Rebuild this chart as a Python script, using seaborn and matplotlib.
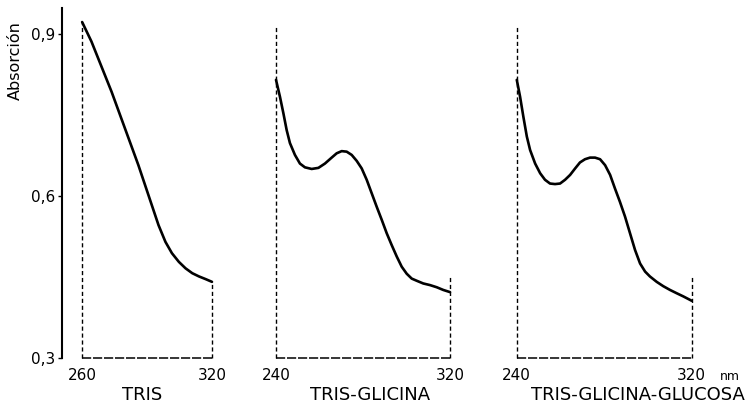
import numpy as np
import pandas as pd
import seaborn as sns
from matplotlib import pyplot as plt

# absorption spectra (nm, absorbance)
tris_nm = [260.0, 264.3, 267.4, 270.5, 273.6, 276.7, 279.8, 282.9, 286.0, 289.1, 292.2,
           295.3, 298.5, 301.5, 304.7, 307.8, 310.9, 314.0, 317.1, 320.0]
tris_abs = [0.922, 0.886, 0.855, 0.824, 0.793, 0.759, 0.725, 0.691, 0.657, 0.620, 0.583,
            0.546, 0.515, 0.494, 0.478, 0.466, 0.457, 0.451, 0.446, 0.441]

glicina_nm = [240.0, 241.8, 243.4, 244.9, 246.4, 248.7, 251.0, 253.3, 256.4, 259.5, 262.5,
              265.6, 267.9, 270.2, 272.5, 274.8, 277.1, 279.4, 281.7, 284.0, 286.3, 288.6,
              290.9, 293.2, 295.5, 297.8, 300.1, 302.4, 304.7, 307.7, 310.8, 313.9, 316.9, 320.0]
glicina_abs = [0.815, 0.784, 0.753, 0.722, 0.698, 0.676, 0.660, 0.653, 0.650, 0.652, 0.660,
               0.671, 0.679, 0.683, 0.682, 0.676, 0.665, 0.651, 0.630, 0.605, 0.580, 0.556,
               0.531, 0.509, 0.488, 0.469, 0.456, 0.447, 0.443, 0.438, 0.435, 0.431, 0.426, 0.422]

glucosa_nm = [240.0, 241.5, 243.0, 244.6, 246.1, 248.4, 250.7, 252.9, 255.2, 257.5, 259.8,
              262.1, 264.4, 266.7, 268.9, 271.2, 273.5, 275.8, 278.1, 280.4, 282.7, 284.9,
              287.2, 289.5, 291.8, 294.1, 296.4, 298.7, 300.9, 304.0, 307.0, 310.1, 313.1,
              316.2, 320.0]
glucosa_abs = [0.815, 0.784, 0.747, 0.710, 0.685, 0.660, 0.642, 0.630, 0.623, 0.622, 0.623,
               0.630, 0.639, 0.651, 0.662, 0.668, 0.671, 0.671, 0.668, 0.657, 0.639, 0.614,
               0.589, 0.562, 0.531, 0.500, 0.475, 0.460, 0.451, 0.441, 0.433, 0.426, 0.420,
               0.414, 0.406]

panel_names = ["TRIS", "TRIS-GLICINA", "TRIS-GLICINA-GLUCOSA"]
panel_ticks = [(260, 320), (240, 320), (240, 320)]
y_ticks = [0.3, 0.6, 0.9]
y_labels = ["0,3", "0,6", "0,9"]

sns.set_style("white")
plt.rcParams['font.family'] = ['DejaVu Sans']
plt.rcParams['text.color'] = 'black'
plt.rcParams['xtick.color'] = 'black'
plt.rcParams['ytick.color'] = 'black'

W, H = 754, 408
fig = plt.figure(figsize=(W / 100, H / 100), dpi=100)

ylim = (0.3, 0.948)
bottom = (H - 358) / H
height = (358 - 8) / H

# axes in pixel terms: (left px, right px, xlim)
layout = [
    (62, 215, (250.7, 321.4)),
    (270, 456, (237.24, 322.76)),
    (510, 698, (236.9, 322.9)),
]
# where the dashed verticals stop (left top, right top)
dash_tops = [(0.922, 0.441), (0.913, 0.45), (0.913, 0.45)]
label_x = [142, 370, 638]

data = [(tris_nm, tris_abs), (glicina_nm, glicina_abs), (glucosa_nm, glucosa_abs)]

for i, ((lpx, rpx, xl), (xs, ys)) in enumerate(zip(layout, data)):
    ax = fig.add_axes([lpx / W, bottom, (rpx - lpx) / W, height])
    df = pd.DataFrame({"nm": xs, "abs": ys})
    sns.lineplot(data=df, x="nm", y="abs", ax=ax, color="black", lw=1.9,
                 sort=True, clip_on=False)
    ax.set_xlim(xl)
    ax.set_ylim(ylim)
    x0, x1 = panel_ticks[i]
    lt, rt = dash_tops[i]
    ax.plot([x0, x0], [0.3, lt], ls=(0, (3, 2)), color="black", lw=1.0, clip_on=False)
    ax.plot([x1, x1], [0.3, rt], ls=(0, (3, 2)), color="black", lw=1.0, clip_on=False)
    ax.plot([x0, x1], [0.3, 0.3], ls=(0, (6, 1.2)), color="black", lw=1.1, clip_on=False)
    for s in ax.spines.values():
        s.set_visible(False)
    ax.set_xticks([x0, x1])
    ax.set_xticklabels([str(x0), str(x1)], fontsize=11)
    ax.tick_params(axis="x", length=0, pad=7)
    ax.set_xlabel("")
    ax.set_ylabel("")
    if i == 0:
        ax.spines["left"].set_visible(True)
        ax.spines["left"].set_linewidth(1.5)
        ax.spines["left"].set_color("black")
        ax.set_yticks(y_ticks)
        ax.set_yticklabels(y_labels, fontsize=11)
        ax.tick_params(axis="y", length=3, width=1, pad=2, left=True)
    else:
        ax.set_yticks([])
    ax.patch.set_alpha(0)
    fig.text(label_x[i] / W, (H - 395) / H, panel_names[i], fontsize=13,
             ha="center", va="center")

fig.text(720 / W, (H - 377) / H, "nm", fontsize=9, ha="left", va="center")
fig.text(15 / W, (H - 61) / H, "Absorción", fontsize=11.5, rotation=90,
         ha="center", va="center")

fig.savefig("out.png", dpi=100)
